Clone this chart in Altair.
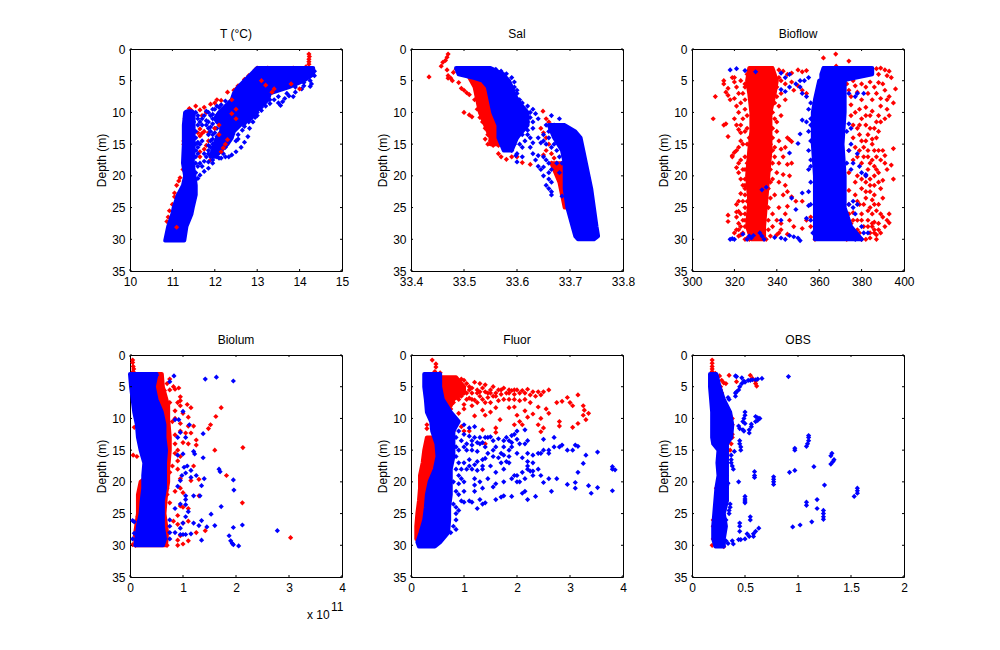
import altair as alt
import pandas as pd

# Values. The densest parts of each cloud are kept as
# depth / low / high bands; the scattered points are listed individually.
T_red = [(14.22,.8),(14.23,1.2),(14.22,1.6),(14.22,2.0),(14.22,2.4),(14.15,2.8),(14.3,3.1),(13.0,3.0),(12.95,3.3),(13.25,3.0),(13.6,3.2),(13.85,3.0),(12.8,4.2),(12.7,4.8),(12.55,5.8),(12.5,6.3),(12.45,6.5),(12.3,6.8),(12.15,8.1),(12.05,8.0),(12.0,8.5),(11.9,8.7),(11.75,9.2),(11.55,9.0),(11.4,9.4),(11.45,9.7),(11.65,9.6),(11.8,10),(11.7,10.5),(11.65,12.6),(11.6,13.2),(11.65,13.7),(11.7,13.3),(11.75,13),(11.85,13.2),(11.8,15.2),(11.75,15.8),(11.65,16.2),(11.85,14.5),(11.9,17.5),(11.65,17),(11.3,11),(11.3,12),(11.27,14.5),(11.27,15),(11.25,19),(11.18,20.3),(11.15,20.8),(11.1,21.5),(11.05,22.7),(11.05,23.3),(11,24.5),(10.93,25.5),(10.9,26.5),(10.87,27.2)]
T_blue = [(11.55,10),(11.6,10.5),(11.7,11),(11.8,11.3),(11.9,10.5),(12,9.5),(12.1,9.2),(11.5,11.5),(11.6,12),(11.7,12),(11.8,12),(11.9,12.3),(12,12.5),(11.55,13),(11.85,13.5),(11.95,13.5),(11.55,14),(11.9,14.5),(11.55,15),(11.6,14.7),(11.65,15),(11.9,15.5),(11.55,16),(11.6,16.5),(11.55,17),(11.85,16.5),(11.8,17),(11.55,18),(11.65,18),(11.75,17.7),(11.85,17.8),(11.95,17.5),(12,16.8),(12.1,16.3),(12.25,15.5),(14.35,3.5),(14.3,4),(14.35,4.2),(14.25,5),(14.28,5.5),(14.25,5.9),(14.1,5.3),(14.05,6.3),(13.9,6.8),(13.75,7.4),(13.65,7.8),(13.5,8.5),(13.55,8.9),(13.4,8),(13.3,8.6),(13.1,9.7),(13,10.5),(12.9,11.5),(12.82,12.5),(12.78,13.8),(12.7,14.7),(12.62,15.5),(12.5,16.2),(12.4,16.7),(12.33,17),(12.2,16.5),(12.1,17.2),(11.95,18),(11.85,18.8),(11.75,19.3),(11.65,19.9),(11.6,20.4),(12.5,14.5),(12.55,13.5),(12.7,12.2),(12.8,11.5),
(11.6,11),(11.75,10.5),(11.85,10),(11.95,10.3),(12.05,10.5),(11.95,11),(11.85,11.5),(11.65,11.5),(12.05,11.5),(11.95,11.8),(12.05,12.5),(11.85,12.5),(11.9,13),(12.0,13.2),(12.05,13.8),(11.95,14.2),(12,14.8),(11.95,15),(11.85,15.2),(12,15.8),(11.95,16.2),(11.9,16.8),(12.05,17),(12.15,17.2),(12.25,17),(11.85,16),(11.6,15.5),(11.6,18.5),(11.55,19.5),(11.7,18.5),(11.75,16.5),(11.7,14.5),(12.15,8.8),(12.25,8.2),(12.05,9),(11.95,9.5),(11.8,9.8),(13.2,9),(13.3,8),(13.5,7.5),(13.7,7),(13.9,6),(14.1,5.8),(13.85,7.5),(13.6,8.3),(13.1,9.2),(13,10),(12.95,10.8),(12.7,11.8),(12.65,12.8),(12.55,14.2)]
T_over = [(12.3,14.3),(12.25,15),(12.2,15.6),(12.15,16.2),(12.1,13.5),(12.4,8),(12.5,9.5),(12.4,10.2),(12.5,11),(13.35,6.8),(13.4,6.3),(13.1,5),(13.8,5.5),(14,6.3),(13.2,5.7),(12.1,12),(12,12.5),(11.1,28.1)]
T_red_bands = []
T_blue_bands = [
    [(30.2,10.83,11.28),(28,10.9,11.33),(26,11,11.45),(25,11.03,11.48),(23,11.13,11.55),(21.5,11.25,11.55),(20,11.3,11.52),(18,11.25,11.48),(15,11.27,11.5),(12,11.27,11.5),(10,11.3,11.5),(9.8,11.35,11.45)],
    [(3,13,14.32),(4,12.85,14.32),(5,12.7,14.1),(6,12.55,13.75),(7,12.45,13.3),(8,12.4,13.25),(9,12.25,13.1),(10,12.1,12.95),(11,12.0,12.85),(12,12.15,12.6),(13,12.15,12.45),(14,12.05,12.4),(15,12.0,12.3),(16,11.95,12.15),(17,11.9,12.0)],
]

Sal_red = [(33.47,.8),(33.468,1.3),(33.465,1.8),(33.46,2.1),(33.457,2.7),(33.468,3.3),(33.434,4.4),(33.47,4.2),(33.475,4.6),(33.478,5),(33.47,4.6),(33.48,3.7),(33.485,3.2),(33.49,5.3),(33.495,6.2),(33.5,6.5),(33.505,6.9),(33.51,7.2),(33.52,8),(33.5,10),(33.51,10.4),(33.515,10.7),(33.525,9.5),(33.53,10.8),(33.535,11.5),(33.54,12.5),(33.545,13.5),(33.55,14.5),(33.545,15),(33.555,15.2),(33.565,15.2),(33.565,16.5),(33.57,17),(33.58,17.4),(33.59,17),(33.6,17),(33.61,17.9),(33.625,18.2),(33.54,14.2),(33.649,9.8),(33.655,11),(33.66,11.5),(33.665,12),(33.67,12.3),(33.68,12.7),(33.645,12.5),(33.65,13.2),(33.655,14),(33.66,15),(33.65,16.7),(33.655,16),(33.665,16.5),(33.67,17.2),(33.665,18),(33.67,18.5),(33.68,18.8)]
Sal_blue = [(33.6,6.5),(33.595,7.2),(33.6,7.8),(33.605,8),(33.62,9),(33.63,9.5),(33.635,10.2),(33.64,11),(33.63,11.5),(33.615,11),(33.61,12),(33.6,12.5),(33.605,13),(33.62,12.8),(33.63,12.5),(33.625,14),(33.615,14.5),(33.61,15.5),(33.6,16.5),(33.61,17),(33.625,15.5),(33.63,16.5),(33.635,17.5),(33.64,18.5),(33.6,17.8),(33.598,16.8),(33.59,16),(33.58,15),(33.585,14),(33.65,18.6),(33.645,19),(33.65,17),(33.64,16.8),(33.65,14.5),(33.645,14.8),(33.665,10.5),(33.68,11),(33.67,12),(33.655,12),(33.69,12.5),(33.65,20),(33.66,20.5),(33.665,21),(33.655,21.5),(33.66,22),(33.665,22.5),(33.665,23),(33.685,23.2),(33.66,19.5),(33.665,19),(33.68,19.5),
(33.6,9),(33.605,10),(33.61,9.5),(33.625,10),(33.625,10.8),(33.6,11),(33.62,11.5),(33.605,11.8),(33.59,13),(33.595,12.5),(33.6,14),(33.61,13.5),(33.605,15),(33.595,15),(33.59,15.5),(33.62,13.5),(33.63,14.8),(33.64,14),(33.65,13.5),(33.655,15),(33.66,13),(33.66,14),(33.665,15.5),(33.67,15),(33.675,16),(33.68,17),(33.675,18),(33.685,18),(33.68,14),(33.655,17.5),(33.66,18),(33.595,6),(33.6,7),(33.605,8.5),(33.61,8.5),(33.58,3.9),(33.57,3.5),(33.56,3.2),(33.59,4.5),(33.595,5.2)]
Sal_over = []
Sal_red_bands = [
    [(4.5,33.51,33.53),(6,33.52,33.545),(8,33.525,33.555),(10,33.53,33.56),(12,33.54,33.565),(14,33.55,33.57),(15,33.55,33.565)],
    [(18,33.665,33.69),(19,33.67,33.69),(21,33.68,33.695),(23,33.685,33.70),(25,33.69,33.70)],
]
Sal_blue_bands = [
    [(3,33.485,33.55),(4,33.49,33.575),(4.6,33.52,33.58),(5,33.535,33.585),(6,33.545,33.59),(8,33.55,33.6),(10,33.555,33.62),(12,33.565,33.62),(14,33.565,33.6),(16,33.575,33.59)],
    [(12,33.66,33.69),(13,33.665,33.71),(14,33.67,33.72),(16,33.685,33.725),(18,33.69,33.73),(20,33.69,33.735),(22,33.69,33.74),(25,33.695,33.745),(28,33.705,33.75),(29.5,33.71,33.753),(30,33.715,33.745)],
]

Bio_red = [(310,11),(311,7.5),(315,5),(315,5.5),(316,6.8),(317,6.2),(317,7.3),(316,11.8),(315,12),(317,13.8),(318,8),(320,4.5),(320,5.2),(320,7.8),(321,9),(322,10),(321,12),(322,12.7),(323,13.2),(324,11),(325,9.5),(324,7),(325,5.5),(323,5),(319,16.8),(320,16.3),(319,17),(322,15.5),(324,15),(325,17),(321,18.7),(322,19.5),(324,19),(325,20.5),(324,21.5),(323,22.8),(324,24),(325,25),(322,25.6),(321,25.7),(317,26.2),(317,27.2),(322,27.5),(323,28),(324,29),(322,28.5),(325,27),(326,29.8),(325,30),(323,29.3),(325,23),
(341,3.3),(343,3.5),(345,4),(347,3.8),(350,3.3),(352,3.6),(354,3.4),(342,5),(344,5.5),(347,5.2),(350,5.8),(348,6.5),(352,6.5),(354,7),(342,7),(344,8),(341,9),(342,10.5),(340,11.5),(340,13),(341,14.5),(345,14),(346,14.3),(347,14.6),(339,15.5),(342,15.8),(344,15.5),(343,17),(341,18),(345,18.2),(347,18),(340,19.5),(343,19.8),(346,20),(341,21),(344,21.5),(345,22.5),(343,23),(347,23.3),(349,24),(352,24),(345,24.8),(341,25),(344,26),(340,27),(342,27.5),(346,27),(348,28),(342,28.5),(340,29.3),(345,29.2),(352,28.3),(354,27),(356,26.5),(356,28),(358,30),(341,29),(338,26),(339,23),(338,20.5),(339,17),
(380,3.2),(384,3.4),(387,3.1),(389,3),(391,3.3),(393,3.5),(388,4),(392,4.2),(394,4.5),(376,5),(380,5.5),(384,5.2),(388,5.3),(396,6.3),(374,6.5),(378,6.8),(383,7),(387,7),(391,6.5),(393,7.5),(395,8.5),(392,8),(375,8.8),(379,9.5),(382,9.2),(385,9.8),(389,9),(392,9.5),(375,10.5),(380,11),(384,10.5),(388,10.5),(391,11),(393,10.5),(376,12),(378,12.5),(382,12),(386,12.5),(389,11.5),(379,13.5),(383,13.5),(376,14),(380,14.5),(387,14),(381,15.5),(385,15),(386,16),(388,16),(395,15.7),(391,16.8),(378,17),(383,17),(385,17.5),(389,17.5),(374,16),(376,17.5),(380,18),(386,18.5),(391,18),(394,18.3),(383,19),(388,19.5),(392,19),(374,19.5),(378,20),(384,20.5),(395,20.5),(390,20.7),(377,21),(382,21),(386,21.5),(380,22),(384,22.5),(389,22),(374,22.3),(377,23),(382,23.5),(385,23.8),(390,23.5),(374,24.5),(379,24.5),(384,25),(388,24.5),(376,25.8),(380,26),(385,26),(389,26),(393,26),(378,27),(383,27),(386,27.3),(392,27),(393,27.4),(375,27.5),(381,28),(385,28),(388,28.5),(391,28),(378,28.5),(384,29),(387,29.3),(380,30),(384,29.8),(386,29),(373,30),(367.8,.8),(362,1.4),(374,1.9),(368,2.7),
(326,4),(325,6),(325,8),(326,10.5),(326,12.5),(327,14),(326,15),(326,18),(325,19),(325,22),(326,24),(325,26),(325,28),(327,30),(339,5),(340,6),(341,4.5),(340,7.5),(339,8.5),(338,10),(339,11),(338,12.5),(338,14),(337,15),(338,16),(338,18),(337,19),(337,21),(336,22),(337,23.5),(336,25),(336,27),(336,28.5),(335,30),(337,29.5),(338,28),
(373,5.5),(377,5.8),(382,6),(386,6),(390,5.5),(375,7.5),(380,8),(385,8),(389,7.8),(377,10),(382,10.5),(387,11.5),(379,12),(384,12.5),(388,13),(382,14.5),(385,14.2),(377,15.5),(383,16),(379,16),(381,17),(387,17),(390,16),(384,18),(387,19),(382,20),(386,20),(380,20.5),(384,21.5),(388,21),(382,22.5),(386,23),(378,24),(381,24.5),(386,24.5),(374,26),(376,27),(380,27),(383,25.5),(387,25.5),(390,26.5),(383,28),(386,28.5),(389,29),(379,29),(376,29.5),(382,30),(387,30),(385,27.5),(388,27.5),
(319,4.5),(321,6),(322,7),(323,8.5),(320,11),(323,12),(325,13),(323,14.5),(321,16),(323,17.5),(322,18),(323,20.5),(325,21.5),(322,24),(321,24.5),(323,26),(321,26.5),(324,27),(326,28),(321,28.5),(322,29.5),(320,29)]
Bio_blue = [(318,3.3),(321,3.1),(325,3.4),(330,3.6),(318,30),(319,29.9),(320,30),(324,29.2),(326,30),(327,29.5),(328,29.8),(329,29.4),(332,29),(333,29.5),(334,30),(339,29.7),(342,29.8),(344,30),(346,29.4),(348,29.6),(350,29.8),(351,30.2),(333,22.2),(335,21.8),(342,27),(349,25.3),(347,23.5),(346,16.4),(350,14.9),(351,13.4),(352,11.2),(354,11.5),(342,3.8),(344,4.5),(346,4),(342,6.4),(346,6),(344,6.7),(349,5.5),(351,5),(353,5),(355,4.5),(351,6),(352,7),(354,7.5),(356,8.5),(355,9.5),(356,11),(356,12),(355,13),(356,14.5),(355,16),(355,19),(356,17.5),(356,18.5),(356,21),(355,22.5),(352,22.7),(356,24.5),(355,24.7),(354,26.7),(356,27),(357,29),(374,11.8),(375,12.5),(373,13),(375,15),(374,16),(373,18),(375,19),(376,18),(378,16.5),(379,18.5),(380,19.5),(382,19.8),(382,20),(374,24.5),(376,24),(378,24.5),(376,25),(377,26),(380,28),(381,29),(383,29),(377,30),(380,30),(374,7),(377,7.5),(378,7),(381,7)]
Bio_over = []
Bio_red_bands = [[(3,327,338),(5,326,340),(7,327,339),(10,328,337),(13,328,337),(16,327,337),(20,326,336),(24,327,335),(28,326,334),(30,328,334)]]
Bio_blue_bands = [[(3,362,385),(4,361,385),(4.8,361,373),(5,360,372),(8,358,372),(10,357,372),(15,357,371),(20,358,372),(25,358,372),(28,358,375),(30,358,380)]]

Lum_red = [(.05,.8),(.05,1.2),(.06,1.8),(.07,2.2),(.06,2.6),(.75,3.8),(.7,4.5),(.82,5),(.92,5.2),(.85,5.4),(.75,5.5),(.65,5.6),(.6,5.2),(.95,6.6),(.95,7.2),(.9,7.5),(1.08,7.8),(.95,8),(1.15,8.3),(1.72,8.3),(.75,7.5),(.65,7),(.85,8.8),(1.0,9.2),(1.1,9.8),(1.62,9.7),(.85,10),(.8,10.5),(.95,10.8),(1.1,11.2),(1.2,11.2),(1.52,11),(1.48,11.6),(.08,11.4),(.95,12),(1.05,12.3),(1.15,12.3),(.85,12.6),(1.25,13.4),(1.25,14.2),(1.1,14),(1.0,13.8),(.85,14),(.7,13.5),(2.13,14.6),(1.6,15),(.9,15),(.85,15.5),(.95,16),(.06,15.8),(.13,16),(.7,16.5),(.9,16.7),(.65,16.3),(.8,17.5),(1.2,17.5),(.9,18),(.75,18.5),(1.82,19),(1.3,19.6),(1.15,19.8),(.95,19.5),(.22,20.3),(.25,21),(.18,22),(.7,20),(.7,21),(.95,21),(1.0,21.7),(.85,21.5),(.7,22),(.65,22.5),(1.3,22.2),(.75,23.3),(.95,23.8),(1.0,24),(1.1,24.2),(2.12,23.3),(.18,24.4),(.15,25.5),(.15,26.5),(.9,25.3),(.82,26.2),(.9,26.7),(1.0,26.5),(1.1,26.2),(1.42,27.7),(.12,27.7),(.1,28.5),(.95,28.5),(1.25,28),(3.03,28.8),(.9,29.2),(1.1,29.3),(1.0,29.8),(.9,30),(.7,30),(.05,29.9),(.1,30)]
Lum_blue = [(.83,3.3),(1.42,3.8),(1.63,3.5),(1.95,4.1),(.75,4.2),(.5,3.2),(1.0,8.9),(.85,10.2),(.92,10.2),(1.12,11),(1.38,12.4),(.95,12.2),(1.05,13),(.9,13),(1.2,15.2),(1.22,15.6),(1.38,16.2),(1.0,15.6),(.9,15.8),(1.08,17.5),(1.02,17.7),(1.15,18.2),(1.05,18.6),(.98,19),(1.68,18),(1.7,18.4),(1.4,19.5),(1.15,19.3),(1.25,19),(1.95,19.7),(.95,19.8),(.9,20.7),(1.35,20.6),(1.96,21.3),(1.2,22.2),(1.32,22.2),(1.05,22.2),(1.05,22.8),(1.05,23.6),(1.72,23.9),(.95,23.5),(.85,24.2),(1.1,24.7),(1.53,25.1),(1.05,25.5),(1.0,26.5),(1.2,26.5),(1.35,26.1),(1.3,26.9),(1.6,26.9),(2.12,26.8),(1.45,27.1),(1.95,27.2),(.95,27.3),(.75,26),(.75,27),(.75,28),(.85,28),(1.05,28.3),(1.0,28.3),(1.15,28.2),(.95,28.3),(2.78,27.7),(1.87,28.5),(1.35,29.2),(1.9,29.3),(1.93,29.7),(1.95,29.9),(2.05,30.1),(.05,26.1),(.08,26.3),(.08,28.1),(.05,29),(.75,29)]
Lum_over = []
Lum_red_bands = [[(3,.05,.6),(5,.3,.62),(8,.4,.72),(10,.5,.72),(13,.5,.75),(15,.5,.75),(18,.5,.72),(20,.2,.72),(22,.15,.68),(25,.15,.65),(28,.1,.7),(30,.1,.68)]]
Lum_blue_bands = [[(3,0,.5),(5,.02,.45),(7,.05,.5),(9,.08,.6),(11,.13,.65),(13,.15,.65),(15,.2,.68),(17,.27,.66),(19,.25,.66),(21,.25,.66),(23,.22,.62),(25,.2,.62),(27,.15,.62),(29,.12,.66),(30,.1,.62)]]

Flu_red = [(.4,.8),(.47,1.4),(.47,1.9),(.45,2.6),(.55,2.8),(.95,3.8),(1,4),(1.05,4.5),(1.1,5),(1.2,4.3),(1.3,4.5),(1.35,5.2),(1.4,4.7),(1.5,5.5),(1.55,5),(1.6,6),(1.7,5.5),(1.75,5.2),(1.8,6),(1.9,5.6),(1.95,6.2),(2,5.5),(2.1,5.6),(2.15,6),(2.2,5.4),(2.3,5.8),(2.35,6.5),(2.45,6.3),(2.5,5.8),(2.6,5.5),(1.05,6),(1.1,6.8),(1.15,6),(1.2,7.1),(1.3,6.5),(1.35,7),(1.45,6.7),(1.5,7.5),(1.55,6.5),(1.65,7.2),(1.75,7),(1.85,7),(1.95,7),(2.05,7.2),(2.15,7),(2.25,7.5),(.9,7),(1,7.8),(.8,7.5),(.75,8.5),(.9,9.2),(1.0,8.5),(1.15,8),(1.2,9.6),(1.35,8.7),(1.4,9.5),(1.5,9),(1.6,8.3),(1.68,10.2),(1.85,8.3),(1.95,8.2),(2.0,9.5),(2.05,10.5),(2.15,8.8),(2.2,9.8),(2.3,9.3),(2.4,8.2),(2.45,10),(2.4,11),(2.5,11.5),(2.45,12.1),(2.55,8.5),(2.6,9.2),(2.75,7.5),(2.85,7.3),(2.8,10.5),(2.8,11.2),(2.95,6.7),(3.0,7.5),(3.05,8),(3.15,6.3),(3.25,8),(3.27,8.7),(3.25,9.5),(3.3,10.2),(3.15,10.8),(3.05,11.4),(3.35,9.2),(1.95,11),(2.1,11),(.3,11),(.3,11.6),(1.0,12),(.8,12),(.95,11.3),(1.1,12),(.8,13),(1.35,11.8),(1.6,11.5),(1.6,12.2),(1.4,14),(.7,15),(.7,16),(.72,17),(.65,16.5),(.55,12.5),
(1.0,5),(1.0,6),(1.1,5.5),(1.15,5.2),(1.25,5.5),(1.25,6),(1.3,5.8),(1.4,5.8),(1.45,6),(1.5,6),(1.6,6.5),(1.65,5.5),(1.7,6.2),(1.85,6),(1.85,5.5),(1.95,5.5),(2.05,6),(2.25,6.3),(2.4,5.8),(1.05,7),(1.15,7),(1.25,7.5),(1.4,7.5),(.95,6.5),(.85,5),(.85,6)]
Flu_blue = [(.8,10.5),(1,11),(1.1,11.5),(1.2,11.3),(.9,12),(1,12.5),(1.1,12.8),(.95,13.5),(1.2,13),(1.25,13.8),(1.3,13),(1.35,13.8),(1.45,13),(1.5,12.9),(1.65,13.2),(1.8,13),(1.85,13.5),(1.9,13.8),(2,13.3),(1.95,12.5),(2,12),(2.15,14),(2.2,13.5),(2.15,11.8),(2.5,13.3),(2.7,13),(2.7,14.5),(2.8,14.5),(2.85,14.2),(2.95,15),(3.05,15),(3.1,14.2),(3.15,14.4),(3.3,15.8),(3.52,15.3),(3.25,17.1),(3.15,18.5),(3.8,17.6),(3.8,18),(3.85,18.1),(3.35,20.6),(3.1,20.1),(2.95,20.4),(3.1,21),(3.52,20.9),(3.8,21.4),(3.4,21.8),(2.65,21.5),(2.6,19.5),(2.75,19.5),(2.45,19),(2.5,20.1),(2.4,18),(2.3,17),(2.4,15.5),(2.5,15),(2.6,15.5),(2.2,16.8),(2.1,16.2),(2.0,15.5),(1.85,15),(1.7,15.5),(1.55,15),(1.45,15.5),(1.35,16.5),(1.25,16.8),(1.1,16.5),(1,17),(.95,18),(1.05,18),(.9,15),(1,14.5),(.85,16),(.9,19),(1.15,18),(1.25,18.2),(1.35,18),(1.5,17.5),(1.6,18.5),(1.75,18),(1.85,17),(1.95,19),(2.1,18.5),(2.2,18),(2.3,18.3),(1.2,19.5),(1.45,19.5),(1.6,20.3),(1.75,20),(1.9,19.5),(2,20),(2.05,20),(1.0,20),(.9,20.3),(.8,20),(.85,21.5),(1.0,21.5),(1.2,21.5),(1.35,21),(1.55,20.8),(1.75,22.2),(1.7,22.4),(1.9,22.3),(2.15,21.5),(2.1,21.8),(2.35,22.3),(2.2,22.8),(1.1,23),(1.15,23.2),(1.25,24.2),(1.3,22.8),(1.35,23.5),(1.4,23.3),(1.6,22.8),(1.0,23.2),(.8,23.5),(.85,24),(.85,25),(.85,26),(.8,27),(.85,27.5),(.75,28),(.9,24.5),
(1.15,13.5),(1.3,14),(1.4,14.5),(1.6,14.5),(1.75,14.5),(1.9,14.5),(2.05,14),(1.05,15),(1.15,15),(1.25,15.2),(1.55,16),(1.65,16.2),(1.75,15.8),(1.85,16),(1.8,16.8),(1.7,17),(1.35,17.5),(1.4,16.3),(1.1,17.5),(1.2,17.3),(2.2,15.5),(2.3,15.8),(2.45,15.5),(2.6,15),(2.2,17.5),(2.25,18.3),(2.15,19.5),(2,19),(2.3,19),(.95,19.5),(.9,22),(.95,23),(1.2,20.5),(1.3,20),(.85,18),(.9,17),(.85,14.5),(.85,13),(1.05,14),(1.15,14.2),(1.4,13),(1.55,13.5),(1.75,13.5),(1.9,12.7)]
Flu_over = []
Flu_red_bands = [
    [(3.5,.45,.85),(5,.5,1.0),(6,.55,1.0),(7,.55,.8),(8,.6,.75)],
    [(13,.3,.5),(15,.25,.55),(17,.22,.48),(19,.17,.42),(21,.17,.4),(23,.15,.35),(25,.12,.3),(27,.1,.28),(29,.1,.2)],
]
Flu_blue_bands = [[(3,.25,.55),(5,.25,.55),(7,.28,.6),(9,.3,.75),(10.5,.38,.9),(12,.4,.8),(14,.48,.8),(16,.5,.8),(18,.45,.75),(20,.35,.75),(22,.3,.75),(24,.28,.72),(26,.25,.72),(28,.18,.7),(29.5,.12,.55),(30.2,.15,.45)]]

Obs_red = [(.19,.8),(.19,1.3),(.19,1.8),(.19,2.2),(.19,2.6),(.22,2.9),(.26,3.3),(.35,3.2),(.28,4),(.3,4.4),(.32,4.5),(.27,5),(.27,5.5),(.28,6),(.55,3.2),(.57,3.7),(.6,4.1),(.6,4.5),(.61,4.9),(.42,4.2),(.3,8),(.32,8.5),(.36,9.5),(.38,10),(.38,11),(.38,12.5),(.38,13),(.37,14),(.36,15),(.33,15.5),(.33,16),(.3,17.5),(.23,21),(.2,26),(.2,27),(.2,29),(.19,30),(.3,30.2)]
Obs_blue = [(.41,3.3),(.42,3.4),(.47,3.6),(.49,4.1),(.5,4.3),(.53,4),(.55,4),(.57,3.9),(.6,3.9),(.62,3.8),(.66,3.7),(.47,4.5),(.45,5),(.44,5.5),(.42,5.8),(.41,6),(.41,6.5),(.34,6.7),(.35,7),(.5,9),(.5,9.5),(.49,10),(.48,10.5),(.5,10.8),(.6,9.7),(.62,9.9),(.64,10),(.62,10.3),(.6,10.5),(.56,10.9),(.56,11.3),(.44,11.2),(.45,11.6),(.48,11.8),(.49,12),(.54,11.8),(.54,12.3),(.45,13.5),(.45,14),(.46,14.5),(.46,15),(.4,15.2),(.37,15.8),(.37,16.5),(.37,17),(.38,17.5),(.39,18),(.59,18.4),(.59,19),(.59,19.3),(.44,20),(.77,19.2),(.77,19.6),(.77,20),(.77,20.4),(.92,18.5),(.97,18.2),(.91,3.4),(1.1,12.7),(1.1,13),(1.1,13.5),(1.09,14),(1.08,14.4),(.97,14.7),(.97,15),(1.32,15.5),(1.31,15.9),(1.34,16.5),(1.33,16.8),(1.31,17.2),(1.15,17.6),(1.25,20.5),(1.56,21),(1.56,21.4),(1.56,21.8),(1.53,22.3),(.5,22.3),(.5,22.7),(.5,23),(.5,23.3),(1.18,22.8),(1.08,23.2),(1.08,23.7),(1.18,24.2),(1.24,24.5),(1.24,25),(1.24,25.5),(1.24,25.9),(1.13,26.3),(1.02,26.8),(.95,27.1),(.36,23.5),(.36,24),(.35,24.5),(.35,25),(.55,25.5),(.55,26),(.45,26.5),(.45,27),(.45,27.8),(.63,27.3),(.6,27.8),(.58,28.2),(.58,28.6),(.52,28.2),(.54,28.6),(.5,29),(.44,29.1),(.46,29.1),(.32,29.3),(.34,29.7),(.38,29.3),(.39,29.8),(.3,27.2),(.32,26),(.3,21),(.34,20.2),(.33,20.5)]
Obs_over = []
Obs_red_bands = []
Obs_blue_bands = [[(3,.17,.23),(5,.17,.26),(7,.18,.3),(9,.19,.36),(11,.19,.38),(13,.19,.37),(14,.2,.33),(15,.25,.33),(17,.24,.33),(19,.25,.33),(21,.23,.33),(23,.22,.33),(25,.21,.3),(27,.2,.32),(29,.2,.3),(30.2,.22,.3)]]

depth_ticks = [0, 5, 10, 15, 20, 25, 30, 35]
T_ticks = [10, 11, 12, 13, 14, 15]
Sal_ticks = [33.4, 33.5, 33.6, 33.7, 33.8]
Bio_ticks = [300, 320, 340, 360, 380, 400]
Lum_ticks = [0, 1, 2, 3, 4]
Flu_ticks = [0, 1, 2, 3, 4]
Obs_ticks = [0, 0.5, 1, 1.5, 2]

W, H = 212, 222
FONT = "Liberation Sans"
YSCALE = alt.Scale(domain=[0, 35], reverse=True, nice=False, zero=False)


def bands_df(bands):
    rows = [(i, d, lo, hi) for i, b in enumerate(bands) for d, lo, hi in b]
    return pd.DataFrame(rows, columns=["band", "depth", "lo", "hi"])


def panel(title, xticks, red, blue, over, red_bands, blue_bands, extra=None):
    xs = alt.Scale(domain=[xticks[0], xticks[-1]], nice=False, zero=False)
    xaxis = alt.Axis(values=xticks, format=".1~f", title=None, grid=False, domain=False, tickSize=0,
                     labelPadding=5, labelFont=FONT, labelFontSize=12, labelColor="black",
                     labelFlush=False, labelOverlap=False)
    yaxis = alt.Axis(values=depth_ticks, title="Depth (m)", grid=False, domain=False, tickSize=0,
                     labelPadding=5, labelFont=FONT, labelFontSize=12, labelColor="black",
                     titleFont=FONT, titleFontSize=12, titleFontWeight="normal", titleColor="black",
                     titlePadding=3, labelFlush=False, labelOverlap=False)
    x = alt.X("x:Q", scale=xs, axis=xaxis)
    y = alt.Y("depth:Q", scale=YSCALE, axis=yaxis)
    layers = []

    def add_band(bands, colour):
        if bands:
            layers.append(
                alt.Chart(bands_df(bands))
                .mark_area(orient="horizontal", color=colour, stroke=colour, strokeWidth=4, strokeJoin="round")
                .encode(x=alt.X("lo:Q", scale=xs, axis=xaxis), x2="hi:Q",
                        y=alt.Y("depth:Q", scale=YSCALE, axis=yaxis), detail="band:N")
            )

    def add_pts(pts, colour):
        if pts:
            df = pd.DataFrame(pts, columns=["x", "depth"])
            layers.append(alt.Chart(df).mark_point(shape="diamond", filled=True, size=27, opacity=1, color=colour)
                          .encode(x=x, y=y))

    add_band(red_bands, "#ff0000")
    add_pts(red, "#ff0000")
    add_band(blue_bands, "#0000ff")
    add_pts(blue, "#0000ff")
    add_pts(over, "#ff0000")

    xt = pd.DataFrame({"v": xticks})
    yt = pd.DataFrame({"v": depth_ticks})
    xn = alt.X("v:Q", scale=xs, axis=xaxis)
    yn = alt.Y("v:Q", scale=YSCALE, axis=yaxis)
    layers.append(alt.Chart(xt).mark_rule(color="black").encode(x=xn, y=alt.value(H), y2=alt.value(H - 2)))
    layers.append(alt.Chart(xt).mark_rule(color="black").encode(x=xn, y=alt.value(0), y2=alt.value(2)))
    layers.append(alt.Chart(yt).mark_rule(color="black").encode(y=yn, x=alt.value(0), x2=alt.value(2)))
    layers.append(alt.Chart(yt).mark_rule(color="black").encode(y=yn, x=alt.value(W), x2=alt.value(W - 2)))

    if extra:
        for text, px, py in extra:
            layers.append(alt.Chart(pd.DataFrame({"t": [text]}))
                          .mark_text(align="left", baseline="alphabetic", font=FONT, fontSize=12, color="black")
                          .encode(text="t:N", x=alt.value(px), y=alt.value(py)))

    return alt.layer(*layers).properties(
        width=W, height=H,
        title=alt.TitleParams(title, font=FONT, fontSize=12, fontWeight="normal", color="black",
                              offset=2, anchor="middle"),
    )


panels = [
    panel("T (°C)", T_ticks, T_red, T_blue, T_over, T_red_bands, T_blue_bands),
    panel("Sal", Sal_ticks, Sal_red, Sal_blue, Sal_over, Sal_red_bands, Sal_blue_bands),
    panel("Bioflow", Bio_ticks, Bio_red, Bio_blue, Bio_over, Bio_red_bands, Bio_blue_bands),
    panel("Biolum", Lum_ticks, Lum_red, Lum_blue, Lum_over, Lum_red_bands, Lum_blue_bands,
          extra=[("x 10", 177, 264), ("11", 201, 256)]),
    panel("Fluor", Flu_ticks, Flu_red, Flu_blue, Flu_over, Flu_red_bands, Flu_blue_bands),
    panel("OBS", Obs_ticks, Obs_red, Obs_blue, Obs_over, Obs_red_bands, Obs_blue_bands),
]
chart = alt.concat(*panels, columns=3, spacing=alt.RowColnumber(row=84, column=69), bounds="flush").properties(
    padding={"left": 87, "top": 19, "right": 10, "bottom": 10}
).configure_view(stroke="black", strokeWidth=1).resolve_scale(x="independent")

chart.save("out.html", embed_options={"renderer": "svg", "actions": False})
